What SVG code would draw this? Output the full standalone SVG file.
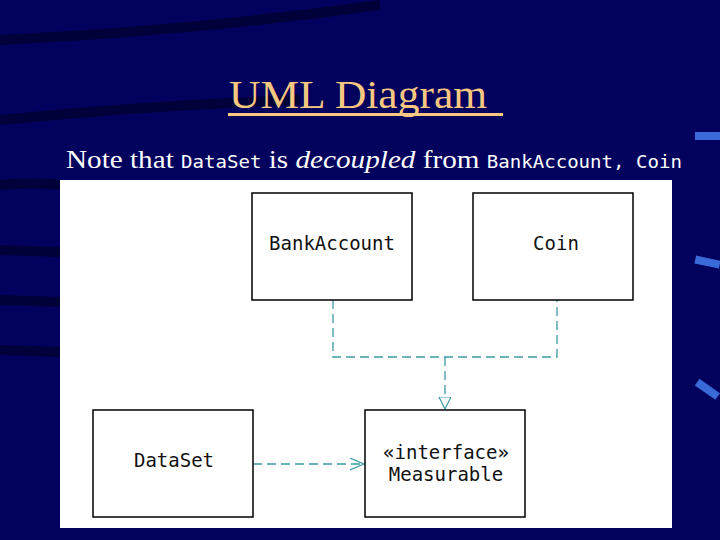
<svg xmlns="http://www.w3.org/2000/svg" width="720" height="540" viewBox="0 0 720 540">
<style>
.box{fill:#fff;stroke:#000;stroke-width:1.5}
.lbl{font-family:"DejaVu Sans Mono","Liberation Mono",monospace;font-size:19px;fill:#111;text-anchor:middle}
.dash{fill:none;stroke:#3a9aa0;stroke-width:1.3;stroke-dasharray:9,5}
.mono{font-family:"DejaVu Sans Mono","Liberation Mono",monospace;font-size:17px}
</style>
<defs>
<marker id="tri" markerWidth="14" markerHeight="14" refX="12" refY="6" orient="auto" markerUnits="userSpaceOnUse"><path d="M0,0 L12,6 L0,12 Z" fill="#fff" stroke="#3a9aa0" stroke-width="1.2"/></marker>
<marker id="open" markerWidth="16" markerHeight="14" refX="14" refY="6" orient="auto" markerUnits="userSpaceOnUse"><path d="M0,0 L14,6 L0,12" fill="none" stroke="#3a9aa0" stroke-width="1.2"/></marker>
</defs>
<rect width="720" height="540" fill="#02025e"/>
<g fill="none" stroke="#010130" stroke-width="10" opacity="0.8">
<path d="M0,40 Q200,30 380,5"/>
<path d="M0,120 Q150,105 300,100"/>
<path d="M0,185 Q40,182 60,185"/>
<path d="M0,250 L60,252"/>
<path d="M0,300 L60,302"/>
<path d="M0,350 L60,352"/>
</g>
<g fill="#3a6ad8"><rect x="695" y="132" width="25" height="8"/><rect x="695" y="258" width="25" height="8" transform="rotate(12 707 262)"/><rect x="695" y="385" width="25" height="8" transform="rotate(35 707 389)"/></g>
<text x="229" y="108" font-family="Liberation Serif,serif" font-size="40" fill="#f8c880" textLength="258" lengthAdjust="spacingAndGlyphs">UML Diagram</text>
<rect x="228" y="113" width="275" height="3" fill="#f8c880"/>
<text x="66" y="168" font-family="Liberation Serif,serif" font-size="26" fill="#fff" textLength="616" lengthAdjust="spacingAndGlyphs">Note that <tspan class="mono">DataSet</tspan> is <tspan font-style="italic">decoupled</tspan> from <tspan class="mono">BankAccount, Coin</tspan></text>
<rect x="60" y="180" width="612" height="348" fill="#fff"/>
<g id="connectors">
<path class="dash" d="M333,300 V357 H557 V300"/>
<path class="dash" d="M445,357 V409" marker-end="url(#tri)"/>
<path class="dash" d="M253,464 H364" marker-end="url(#open)"/>
</g>
<g id="BankAccount"><rect class="box" x="252" y="193" width="160" height="107"/><text class="lbl" x="332" y="250">BankAccount</text></g>
<g id="Coin"><rect class="box" x="473" y="193" width="160" height="107"/><text class="lbl" x="556" y="250">Coin</text></g>
<g id="DataSet"><rect class="box" x="93" y="410" width="160" height="107"/><text class="lbl" x="174" y="467">DataSet</text></g>
<g id="Measurable"><rect class="box" x="365" y="410" width="160" height="107"/><text class="lbl" x="446" y="459">«interface»</text><text class="lbl" x="446" y="481">Measurable</text></g>
</svg>
